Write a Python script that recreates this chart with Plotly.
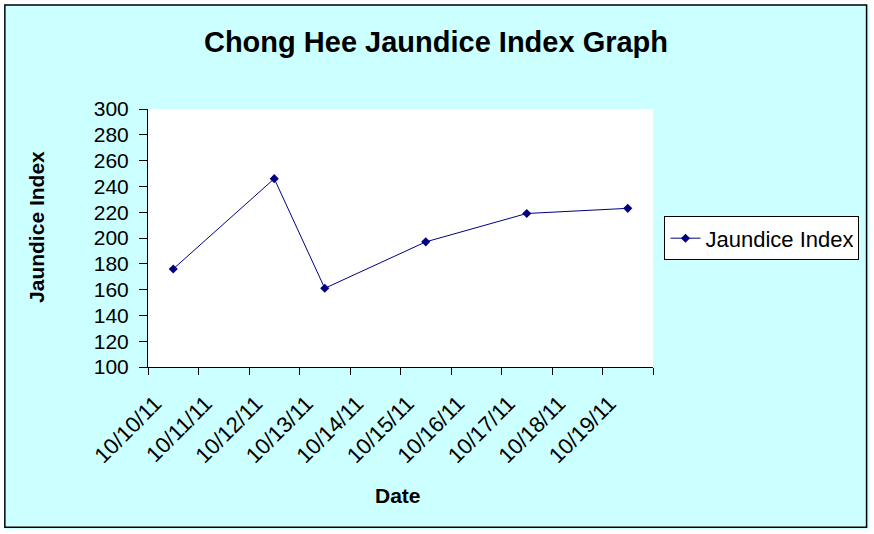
import plotly.graph_objects as go

# ---- data ----
axis_dates = ["10/10/11", "10/11/11", "10/12/11", "10/13/11", "10/14/11",
              "10/15/11", "10/16/11", "10/17/11", "10/18/11", "10/19/11"]
obs_dates = ["10/10/11", "10/12/11", "10/13/11", "10/15/11", "10/17/11", "10/19/11"]
jaundice_index = [176, 246, 161, 197, 219, 223]
y_ticks = list(range(100, 301, 20))

W, H = 874, 534
L, R, T, B = 148, 653.5, 109, 367.3
pw, ph = R - L, B - T


def px(x):
    return (x - L) / pw


def py(y):
    return (B - y) / ph


FONT = "Liberation Sans, Arial, sans-serif"
NAVY = "#000080"
CYAN = "#CCFFFF"

fig = go.Figure()
fig.add_trace(go.Scatter(
    x=obs_dates, y=jaundice_index, name="Jaundice Index",
    mode="lines+markers",
    line=dict(color=NAVY, width=1),
    marker=dict(symbol="diamond", size=7, color=NAVY),
))

fig.update_layout(
    width=W, height=H,
    margin=dict(l=L, r=W - R, t=T, b=H - B, autoexpand=False),
    paper_bgcolor=CYAN, plot_bgcolor="white",
    font=dict(family=FONT, color="black", size=21),
    title=dict(text="<b>Chong Hee Jaundice Index Graph</b>",
               x=436 / W, y=1 - 42 / H, xanchor="center", yanchor="middle",
               font=dict(size=29, family=FONT, color="black")),
    showlegend=True,
    legend=dict(x=px(665), y=py(216.5), xanchor="left", yanchor="top",
                bgcolor="white", bordercolor="black", borderwidth=1,
                font=dict(size=22, family=FONT, color="black")),
    xaxis=dict(type="category", categoryorder="array", categoryarray=axis_dates,
               range=[-0.5, len(axis_dates) - 0.5], tickson="boundaries",
               ticks="outside", ticklen=7, tickcolor="black",
               tickangle=-45, ticklabelshift=-18, ticklabelstandoff=14,
               showline=True, linecolor="black", linewidth=1,
               showgrid=False, zeroline=False, fixedrange=True,
               tickfont=dict(size=22, family=FONT, color="black")),
    yaxis=dict(range=[100, 300], tickvals=y_ticks,
               ticks="outside", ticklen=8, tickcolor="black",
               ticklabelstandoff=6,
               showline=True, linecolor="black", linewidth=1,
               showgrid=False, zeroline=False,
               tickfont=dict(size=21, family=FONT, color="black")),
    annotations=[
        dict(text="<b>Jaundice Index</b>", xref="paper", yref="paper",
             x=px(37), y=py(227), textangle=-90, showarrow=False,
             xanchor="center", yanchor="middle",
             font=dict(size=21, family=FONT, color="black")),
        dict(text="<b>Date</b>", xref="paper", yref="paper",
             x=px(398), y=py(496), showarrow=False,
             xanchor="center", yanchor="middle",
             font=dict(size=21, family=FONT, color="black")),
    ],
    shapes=[
        dict(type="rect", xref="paper", yref="paper",
             x0=px(0), x1=px(W), y0=py(H), y1=py(0),
             line=dict(color="white", width=9), fillcolor="rgba(0,0,0,0)"),
        dict(type="rect", xref="paper", yref="paper",
             x0=px(4.7), x1=px(867.3), y0=py(527.7), y1=py(5),
             line=dict(color="black", width=1.5), fillcolor="rgba(0,0,0,0)"),
    ],
)

fig.write_html("out.html", config={"displayModeBar": False},
               post_script="document.body.style.margin='0';document.body.style.padding='0';")
